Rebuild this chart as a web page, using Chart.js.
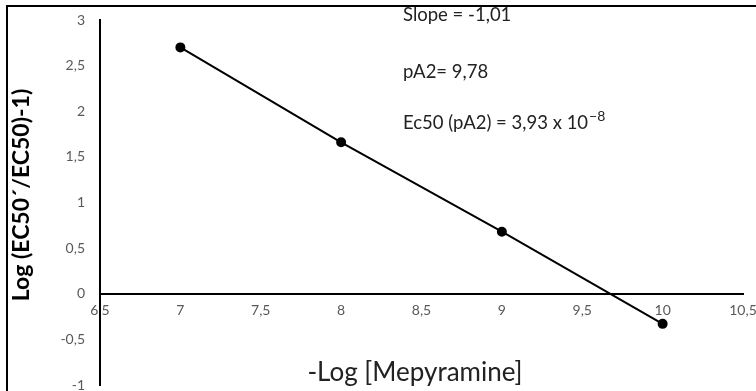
<!DOCTYPE html>
<html>
<head>
<meta charset="utf-8">
<script src="https://cdn.jsdelivr.net/npm/chart.js@4.4.0/dist/chart.umd.min.js"></script>
<style>
  html, body { margin: 0; padding: 0; background: #fff; overflow: hidden; }
  #frame { position: absolute; left: 6px; top: 5px; width: 780px; height: 420px;
           border-top: 2px solid #000; border-left: 2px solid #000; }
  #wrap { position: absolute; left: 0; top: 0; width: 756px; height: 391px; }
</style>
</head>
<body>
<div id="frame"></div>
<div id="wrap"><canvas id="chart"></canvas></div>
<script>
// data
const xValues = [7, 8, 9, 10];
const yValues = [2.70, 1.66, 0.68, -0.33];
const xTicks = [6.5, 7, 7.5, 8, 8.5, 9, 9.5, 10, 10.5];
const yTicks = [-1, -0.5, 0, 0.5, 1, 1.5, 2, 2.5, 3];
const notes = ['Slope = -1,01', 'pA2= 9,78', 'Ec50 (pA2) = 3,93 x 10'];
const noteExp = '\u22128';
const xTitle = '-Log [Mepyramine]';
const yTitle = 'Log (EC50\u00B4/EC50)-1)';

const fmt = v => String(v).replace('.', ',');
const tickFont = { family: 'Lato', size: 14 };

const textPlugin = {
    id: 'texts',
    afterDraw(chart) {
        const ctx = chart.ctx;
        ctx.save();
        ctx.fillStyle = '#000';
        // y title
        ctx.font = 'bold 23px Lato';
        ctx.textAlign = 'center';
        ctx.textBaseline = 'middle';
        ctx.translate(22, 195);
        ctx.rotate(-Math.PI / 2);
        ctx.fillText(yTitle, 0, 0);
        ctx.setTransform(1, 0, 0, 1, 0, 0);
        // x title
        ctx.font = '26px Lato';
        ctx.fillStyle = '#222';
        ctx.fillText(xTitle, 415, 373);
        // notes
        ctx.font = '18.5px Lato';
        ctx.textAlign = 'left';
        ctx.fillStyle = '#222';
        const ys = [15, 72, 123];
        notes.forEach((t, i) => ctx.fillText(t, 403, ys[i]));
        const w = ctx.measureText(notes[2]).width;
        ctx.font = '14px Lato';
        ctx.fillText(noteExp, 404 + w, 116);
        ctx.restore();
    }
};

// drop the extra room Chart.js keeps for end labels
const noPad = s => { s.paddingLeft = 0; s.paddingRight = 0; s.paddingTop = 0; s.paddingBottom = 0; };

new Chart(document.getElementById('chart'), {
    type: 'scatter',
    data: {
        datasets: [{
            data: xValues.map((x, i) => ({ x: x, y: yValues[i] })),
            showLine: true,
            borderColor: '#000',
            backgroundColor: '#000',
            borderWidth: 2,
            pointRadius: 4,
            pointHoverRadius: 4
        }]
    },
    options: {
        responsive: true,
        maintainAspectRatio: false,
        animation: false,
        layout: { padding: { top: 20, right: 13, bottom: 3, left: 0 } },
        plugins: { legend: { display: false }, tooltip: { enabled: false } },
        scales: {
            x: {
                type: 'linear',
                position: { y: 0 },
                min: 6.5,
                max: 10.5,
                afterBuildTicks: s => { s.ticks = xTicks.map(v => ({ value: v })); },
                afterFit: s => { s.height = 0; noPad(s); },
                grid: { display: false, drawTicks: false },
                border: { display: true, color: '#000', width: 2 },
                ticks: { color: '#595959', font: tickFont, padding: 8, callback: fmt, maxRotation: 0, autoSkip: false }
            },
            y: {
                type: 'linear',
                min: -1,
                max: 3,
                afterBuildTicks: s => { s.ticks = yTicks.map(v => ({ value: v })); },
                afterFit: s => { s.width = 100; noPad(s); },
                grid: { display: false, drawTicks: false },
                border: { display: true, color: '#000', width: 2 },
                ticks: { color: '#595959', font: tickFont, padding: 15, callback: fmt, autoSkip: false }
            }
        }
    },
    plugins: [textPlugin]
});
</script>
</body>
</html>
